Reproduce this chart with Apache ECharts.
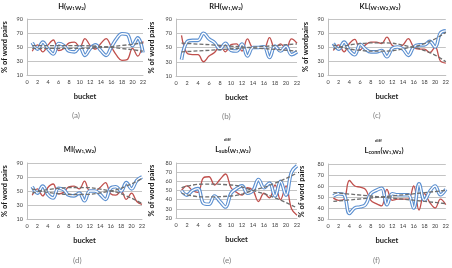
<!DOCTYPE html>
<html lang="en">
<head>
<meta charset="UTF-8">
<title>% of word pairs per bucket</title>
<script src="https://cdn.jsdelivr.net/npm/echarts@6/dist/echarts.min.js"></script>
<style>
  html, body { margin: 0; padding: 0; background: #fff; }
  #main { width: 452px; height: 268px; }
</style>
</head>
<body>
<div id="main"></div>
<script>
// buckets on the x axis
const buckets = [1, 2, 3, 4, 5, 6, 7, 8, 9, 10, 11, 12, 13, 14, 15, 16, 17, 18, 19, 20, 21, 22];

// % of word pairs, red / blue series per panel
const redA  = [44, 53, 43, 53, 60, 45, 48, 56, 57, 50, 62, 52, 47, 55, 62, 50, 38, 31, 32, 48, 37, 58];
const blueA = [56, 47, 57, 47, 40, 55, 52, 44, 43, 50, 38, 48, 53, 45, 38, 50, 62, 69, 68, 52, 63, 42];
const redB  = [67, 42, 40, 40, 30, 38, 43, 52, 44, 54, 55, 45, 62, 50, 50, 49, 64, 48, 55, 48, 62, 56];
const blueB = [33, 58, 60, 60, 70, 62, 57, 48, 56, 46, 45, 55, 38, 50, 50, 51, 36, 52, 45, 52, 40, 44];
const redC  = [45, 53, 43, 55, 61, 46, 53, 57, 57, 55, 64, 52, 50, 53, 62, 50, 47, 47, 42, 50, 30, 27];
const blueC = [55, 47, 57, 45, 39, 54, 47, 43, 43, 45, 36, 48, 50, 47, 38, 50, 53, 53, 58, 50, 70, 73];
const redD  = [44, 53, 43, 55, 60, 46, 48, 56, 57, 53, 64, 50, 50, 55, 62, 46, 44, 50, 38, 47, 35, 31];
const blueD = [56, 47, 57, 45, 40, 54, 52, 44, 43, 47, 36, 50, 50, 45, 38, 54, 56, 50, 62, 53, 65, 70];
const redE  = [50, 55, 50, 48, 64, 65, 56, 62, 68, 53, 48, 45, 53, 50, 38, 47, 42, 56, 40, 55, 30, 23];
const blueE = [50, 45, 50, 52, 36, 35, 44, 38, 32, 47, 52, 55, 47, 50, 62, 53, 58, 44, 60, 45, 70, 77];
const redF  = [49, 47, 48, 65, 60, 59, 57, 47, 44, 42, 57, 47, 48, 48, 48, 60, 38, 53, 45, 40, 48, 43];
const blueF = [51, 53, 52, 35, 40, 41, 43, 53, 56, 58, 43, 53, 52, 52, 52, 40, 62, 47, 55, 60, 52, 57];

// dashed trend lines, read as [bucket, value]
const trendRedA  = [[1, 52], [8, 52], [15, 50], [22, 44]];
const trendBlueA = [[1, 48], [8, 48], [15, 50], [22, 56]];
const trendRedB  = [[1, 44], [8, 47], [15, 51], [22, 55]];
const trendBlueB = [[1, 56], [8, 53], [15, 49], [22, 45]];
const trendRedC  = [[1, 47], [5, 54], [10, 56], [15, 51], [19, 42], [22, 29]];
const trendBlueC = [[1, 53], [5, 46], [10, 44], [15, 49], [19, 58], [22, 71]];
const trendRedD  = [[1, 47], [5, 53], [10, 55], [16, 50], [19, 43], [22, 32]];
const trendBlueD = [[1, 53], [5, 47], [10, 45], [16, 50], [19, 57], [22, 68]];
const trendRedE  = [[1, 53], [5, 57], [10, 56], [14, 50], [18, 42], [22, 31]];
const trendBlueE = [[1, 47], [5, 43], [10, 44], [14, 50], [18, 58], [22, 69]];
const trendRedF  = [[1, 54], [12, 49], [22, 44]];
const trendBlueF = [[1, 46], [12, 51], [22, 56]];

// y axis ranges [min, max, step]
const yRangeTop = [10, 90, 20];
const yRangeE = [20, 80, 10];
const yRangeF = [30, 80, 10];

const panels = [
  { red: redA, blue: blueA, tr: trendRedA, tb: trendBlueA, y: yRangeTop, yName: '% of word pairs', label: '(a)',
    title: '{b|H(}{s|W}{d|1}{s|W}{d|2}{b|)}' },
  { red: redB, blue: blueB, tr: trendRedB, tb: trendBlueB, y: yRangeTop, yName: '% of word pairs', label: '(b)',
    title: '{b|RH(}{s|W}{d|1}{s|,W}{d|2}{b|)}' },
  { red: redC, blue: blueC, tr: trendRedC, tb: trendBlueC, y: yRangeTop, yName: '% of wordpairs', label: '(c)',
    title: '{b|KL(}{s|W}{d|1}{s|W}{d|2}{s|,W}{d|2}{b|)}' },
  { red: redD, blue: blueD, tr: trendRedD, tb: trendBlueD, y: yRangeTop, yName: '% of word pairs', label: '(d)',
    title: '{b|MI(}{s|W}{d|1}{s|,W}{d|2}{b|)}' },
  { red: redE, blue: blueE, tr: trendRedE, tb: trendBlueE, y: yRangeE, yName: '% of word pairs', label: '(e)',
    title: '{b|L}{u|sub}{b|(}{s|W}{d|1}{s|,W}{d|2}{b|)}', sup: 'diff' },
  { red: redF, blue: blueF, tr: trendRedF, tb: trendBlueF, y: yRangeF, yName: '% of word pairs', label: '(f)',
    title: '{b|L}{u|conn}{b|(}{s|W}{d|1}{s|,W}{d|2}{b|)}', sup: 'diff' }
];

// pixel layout of each small chart
const layout = [
  { left: 21,  top: 19,  width: 122, height: 56, cx: 72,  ty: 2,   ly: 111, lx: 77,  nameGap: 18 },
  { left: 176, top: 19,  width: 121, height: 57, cx: 226, ty: 2,   ly: 112, lx: 227, nameGap: 20 },
  { left: 328, top: 19,  width: 120, height: 56, cx: 380, ty: 2,   ly: 111, lx: 378, nameGap: 18 },
  { left: 23,  top: 163, width: 119, height: 56, cx: 80,  ty: 145, ly: 256, lx: 78,  nameGap: 18 },
  { left: 176, top: 163, width: 121, height: 55, cx: 233, ty: 145, ly: 256, lx: 228, nameGap: 20 },
  { left: 328, top: 164, width: 119, height: 55, cx: 384, ty: 146, ly: 256, lx: 378, nameGap: 22 }
];

const FONT = 'Lato, "Open Sans", sans-serif';
const RED = '#c0504d';
const BLUE = '#5b8fd0';
const TREND = '#6e6e6e';

var chartDom = document.getElementById('main');
var myChart = echarts.init(chartDom, null, { renderer: 'canvas' });

const grid = [], xAxis = [], yAxis = [], series = [], title = [], graphic = [];

panels.forEach(function (p, i) {
  const L = layout[i];
  grid.push({ left: L.left, top: L.top, width: L.width, height: L.height, containLabel: false });

  xAxis.push({
    type: 'value', gridIndex: i, min: 0, max: 22, interval: 2,
    name: 'bucket', nameLocation: 'middle', nameGap: 18,
    nameTextStyle: { fontFamily: FONT, fontWeight: 'bold', fontSize: 7.5, color: '#1a1a1a' },
    axisLine: { show: true, lineStyle: { color: '#bfbfbf', width: 1 } },
    axisTick: { show: false },
    splitLine: { show: false },
    axisLabel: { fontFamily: FONT, fontSize: 5.5, color: '#404040', margin: 4 }
  });

  yAxis.push({
    type: 'value', gridIndex: i, min: p.y[0], max: p.y[1], interval: p.y[2],
    name: p.yName, nameLocation: 'middle', nameGap: L.nameGap, nameRotate: 90,
    nameTextStyle: { fontFamily: FONT, fontWeight: 'bold', fontSize: 7.5, color: '#1a1a1a' },
    axisLine: { show: true, lineStyle: { color: '#bfbfbf', width: 1 } },
    axisTick: { show: false },
    splitLine: { show: true, lineStyle: { color: '#c4c4c4', width: 1 } },
    axisLabel: { fontFamily: FONT, fontSize: 5.5, color: '#404040', margin: 4 }
  });

  const pts = arr => buckets.map((b, k) => [b, arr[k]]);
  const base = { type: 'line', xAxisIndex: i, yAxisIndex: i, showSymbol: false, symbol: 'none', silent: true, animation: false };

  series.push(Object.assign({}, base, { data: pts(p.red), smooth: 0.4, lineStyle: { color: RED, width: 1.3 }, z: 2 }));
  series.push(Object.assign({}, base, { data: pts(p.blue), smooth: 0.4, lineStyle: { color: BLUE, width: 3.6 }, z: 3 }));
  series.push(Object.assign({}, base, { data: pts(p.blue), smooth: 0.4, lineStyle: { color: '#ffffff', width: 1.4 }, z: 4 }));
  series.push(Object.assign({}, base, { data: p.tr, smooth: 0.5, lineStyle: { color: TREND, width: 1.3, type: [4, 2] }, z: 5 }));
  series.push(Object.assign({}, base, { data: p.tb, smooth: 0.5, lineStyle: { color: TREND, width: 1.3, type: [4, 2] }, z: 5 }));

  title.push({
    text: p.title, left: L.cx, top: L.ty, textAlign: 'center', padding: 0,
    textStyle: {
      rich: {
        b: { fontFamily: FONT, fontWeight: 'bold', fontSize: 7.5, color: '#1a1a1a', verticalAlign: 'bottom', lineHeight: 9 },
        s: { fontFamily: FONT, fontWeight: 'bold', fontSize: 6, color: '#1a1a1a', verticalAlign: 'bottom', lineHeight: 9 },
        d: { fontFamily: FONT, fontWeight: 'bold', fontSize: 4.5, color: '#1a1a1a', verticalAlign: 'bottom', lineHeight: 8 },
        u: { fontFamily: FONT, fontWeight: 'bold', fontSize: 5.5, color: '#1a1a1a', verticalAlign: 'bottom', lineHeight: 8 }
      }
    }
  });

  if (p.sup) {
    graphic.push({
      type: 'text', left: L.cx - 9, top: L.ty - 8,
      style: { text: p.sup, fontFamily: FONT, fontSize: 4.5, fontWeight: 'bold', fill: '#1a1a1a' }
    });
  }

  graphic.push({
    type: 'text', left: L.lx - 5, top: L.ly,
    style: { text: p.label, fontFamily: FONT, fontSize: 8, fill: '#7f7f7f' }
  });
});

var option = {
  backgroundColor: '#ffffff',
  animation: false,
  title: title,
  grid: grid,
  xAxis: xAxis,
  yAxis: yAxis,
  series: series,
  graphic: graphic
};

myChart.setOption(option);
</script>
</body>
</html>
